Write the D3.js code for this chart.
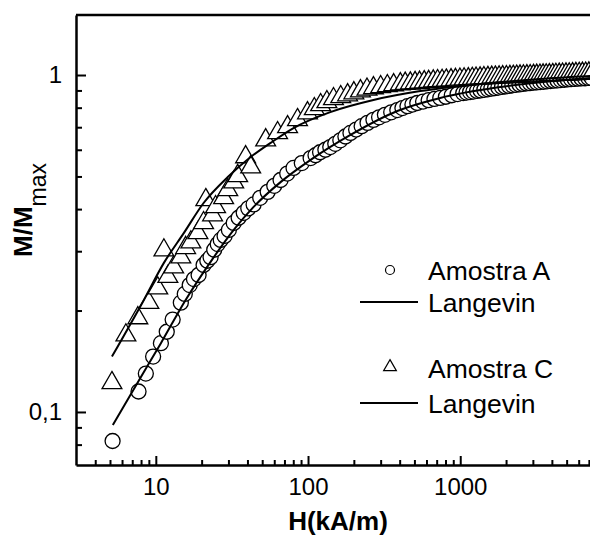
<!DOCTYPE html>
<html>
<head>
<meta charset="utf-8">
<script src="https://cdn.jsdelivr.net/npm/d3@7"></script>
<style>
  body { margin: 0; background: #fff; }
  text { font-family: "Liberation Sans", Arial, sans-serif; }
</style>
</head>
<body>
<div id="chart"></div>
<script>
"use strict";

/* DATA */

// Amostra A (circles) : [H (kA/m), M/Mmax]
let amostraA = [
    [5.2, 0.082], [7.7, 0.115], [8.6, 0.130], [9.6, 0.146], [10.8, 0.160],
    [11.8, 0.173], [12.9, 0.188], [14.6, 0.211], [15.5, 0.224], [16.7, 0.238],
    [17.8, 0.248], [19.1, 0.255], [20.6, 0.273], [21.8, 0.281], [22.9, 0.288],
    [24.2, 0.303], [25.5, 0.315], [26.7, 0.324], [28.3, 0.333], [30.2, 0.347],
    [32.5, 0.364], [35.0, 0.377], [37.8, 0.390], [40.5, 0.402], [43.9, 0.413],
    [48.5, 0.432], [54.3, 0.450], [60.0, 0.469], [66.0, 0.488], [73.0, 0.510],
    [80.3, 0.530], [91, 0.548], [104, 0.567], [112, 0.578], [120, 0.590],
    [130, 0.600], [140, 0.611], [151, 0.625], [163, 0.640], [176, 0.657],
    [190, 0.673], [207, 0.689], [225, 0.705], [246, 0.721], [269, 0.736],
    [293, 0.749], [320, 0.762], [352, 0.775], [386, 0.787], [417, 0.798],
    [450, 0.808], [485, 0.817], [522, 0.826], [570, 0.834], [620, 0.842],
    [677, 0.849], [739, 0.855], [805, 0.862], [880, 0.871], [960, 0.878],
    [1046, 0.884], [1100, 0.887], [1160, 0.890], [1220, 0.893], [1290, 0.897],
    [1360, 0.900], [1440, 0.904], [1520, 0.907], [1600, 0.911], [1690, 0.914],
    [1780, 0.918], [1880, 0.922], [1980, 0.925], [2090, 0.928], [2200, 0.932],
    [2320, 0.935], [2450, 0.938], [2580, 0.941], [2720, 0.944], [2870, 0.946],
    [3020, 0.949], [3180, 0.951], [3350, 0.953], [3530, 0.955], [3720, 0.958],
    [3920, 0.960], [4130, 0.962], [4350, 0.964], [4580, 0.966], [4820, 0.968],
    [5080, 0.970], [5350, 0.972], [5640, 0.974], [5940, 0.975], [6260, 0.977],
    [6600, 0.978], [6950, 0.980], [7300, 0.981]
];

// Amostra C (triangles)
let amostraC = [
    [5.15, 0.122], [6.36, 0.169], [7.62, 0.190], [9.0, 0.211], [10.3, 0.233],
    [11.3, 0.302], [12.0, 0.252], [13.1, 0.269], [14.6, 0.288], [15.7, 0.307],
    [17.0, 0.319], [18.9, 0.340], [20.6, 0.364], [21.3, 0.426], [23.6, 0.384],
    [24.7, 0.406], [27.9, 0.432], [29.7, 0.456], [32.5, 0.481], [34.5, 0.502],
    [38.9, 0.571], [42.0, 0.533], [52.7, 0.641], [63.1, 0.673], [73.4, 0.701],
    [85.3, 0.736], [99.2, 0.771], [110, 0.793], [121, 0.815], [133, 0.832],
    [147, 0.849], [164, 0.861], [182, 0.872], [200, 0.884], [221, 0.896],
    [244, 0.906], [269, 0.915], [300, 0.922], [332, 0.928], [365, 0.934],
    [404, 0.940], [435, 0.943], [470, 0.945], [505, 0.948], [540, 0.950],
    [580, 0.953], [620, 0.955], [665, 0.958], [710, 0.960], [760, 0.962],
    [810, 0.964], [870, 0.966], [930, 0.968], [995, 0.970], [1060, 0.972],
    [1130, 0.973], [1200, 0.975], [1270, 0.977], [1350, 0.978], [1430, 0.980],
    [1520, 0.981], [1610, 0.983], [1700, 0.984], [1800, 0.985], [1900, 0.986],
    [2010, 0.987], [2120, 0.988], [2230, 0.989], [2350, 0.990], [2470, 0.991],
    [2600, 0.992], [2740, 0.993], [2880, 0.994], [3030, 0.995], [3180, 0.996],
    [3340, 0.997], [3500, 0.998], [3670, 0.999], [3850, 1.000], [4050, 1.001],
    [4250, 1.002], [4470, 1.003], [4700, 1.004], [4950, 1.005], [5200, 1.006],
    [5470, 1.007], [5750, 1.008], [6050, 1.009], [6350, 1.010], [6670, 1.011],
    [7000, 1.012], [7350, 1.013]
];

// Langevin fits
let langevinA = [
    [5.22, 0.0915], [7.74, 0.124], [10.8, 0.160], [15.7, 0.215], [22.9, 0.279],
    [32.5, 0.347], [43.9, 0.406], [66.0, 0.481], [104, 0.560], [190, 0.664],
    [386, 0.782], [739, 0.855], [1830, 0.921], [7120, 0.980]
];

let langevinC = [
    [5.15, 0.146], [8.35, 0.215], [11.3, 0.277], [15.3, 0.340], [20.6, 0.417],
    [29.7, 0.498], [42.0, 0.571], [56.8, 0.629], [80.3, 0.696], [140, 0.776],
    [269, 0.843], [547, 0.896], [1352, 0.940], [3346, 0.973], [7120, 0.993]
];

// ticks
let xMajor = [10, 100, 1000];
let xMinor = [4, 5, 6, 7, 8, 9, 20, 30, 40, 50, 60, 70, 80, 90,
              200, 300, 400, 500, 600, 700, 800, 900, 2000, 3000, 4000, 5000, 6000, 7000];
let yMajor = [0.1, 1];
let yMajorLabels = ["0,1", "1"];
let yMinor = [0.08, 0.09, 0.2, 0.3, 0.4, 0.5, 0.6, 0.7, 0.8, 0.9];

let legendItems = ["Amostra A", "Langevin", "Amostra C", "Langevin"];


/* SVG SETUP */

let svgWidth = 590;
let svgHeight = 544;

let svg = d3.select("#chart")
    .append("svg")
    .attr("width", svgWidth)
    .attr("height", svgHeight);

let plotLeft = 76, plotRight = 590, plotTop = 15, plotBottom = 465;

let xScale = d3.scaleLog()
    .domain([2.99, 7120])
    .range([plotLeft, plotRight]);

let yScale = d3.scaleLog()
    .domain([0.0696, 1.507])
    .range([plotBottom, plotTop]);


/* AXES */

// minor x ticks
svg.append("g")
    .attr("transform", "translate(0," + plotBottom + ")")
    .call(d3.axisBottom(xScale).tickValues(xMinor).tickSize(-5).tickSizeOuter(0).tickFormat(""))
    .call(g => g.select(".domain").remove())
    .call(g => g.selectAll("line").attr("stroke-width", 2));

// major x ticks
svg.append("g")
    .attr("transform", "translate(0," + plotBottom + ")")
    .call(d3.axisBottom(xScale).tickValues(xMajor).tickSize(-9).tickSizeOuter(0)
        .tickPadding(13).tickFormat(d3.format("d")))
    .call(g => g.select(".domain").attr("stroke-width", 2.5))
    .call(g => g.selectAll("line").attr("stroke-width", 2))
    .call(g => g.selectAll("text").attr("font-size", "24px").attr("fill", "#000")
        .attr("font-family", "Liberation Sans, Arial, sans-serif"));

// minor y ticks
svg.append("g")
    .attr("transform", "translate(" + plotLeft + ",0)")
    .call(d3.axisLeft(yScale).tickValues(yMinor).tickSize(-6).tickSizeOuter(0).tickFormat(""))
    .call(g => g.select(".domain").remove())
    .call(g => g.selectAll("line").attr("stroke-width", 2));

// major y ticks
svg.append("g")
    .attr("transform", "translate(" + plotLeft + ",0)")
    .call(d3.axisLeft(yScale).tickValues(yMajor).tickSize(-10).tickSizeOuter(0)
        .tickPadding(14).tickFormat((d, i) => yMajorLabels[i]))
    .call(g => g.select(".domain").attr("stroke-width", 2.5))
    .call(g => g.selectAll("line").attr("stroke-width", 2))
    .call(g => g.selectAll("text").attr("font-size", "24px").attr("fill", "#000")
        .attr("font-family", "Liberation Sans, Arial, sans-serif"));

// top frame line
svg.append("line")
    .attr("x1", plotLeft)
    .attr("y1", plotTop)
    .attr("x2", plotRight)
    .attr("y2", plotTop)
    .attr("stroke", "#000")
    .attr("stroke-width", 2.5);


/* AXIS LABELS */

svg.append("text")
    .attr("x", 338)
    .attr("y", 530)
    .attr("text-anchor", "middle")
    .attr("font-size", "26px")
    .attr("font-weight", "bold")
    .text("H(kA/m)");

let yLabel = svg.append("text")
    .attr("transform", "translate(32,210) rotate(-90)")
    .attr("text-anchor", "middle");

yLabel.append("tspan")
    .attr("font-size", "26px")
    .attr("font-weight", "bold")
    .text("M/M");

yLabel.append("tspan")
    .attr("font-size", "23px")
    .attr("dy", 14)
    .text("max");


/* MARKERS */

let triangle = d3.symbol().type(d3.symbolTriangle).size(170);

svg.append("g")
    .selectAll("circle")
    .data(amostraA)
    .enter()
    .append("circle")
    .attr("cx", d => xScale(d[0]))
    .attr("cy", d => yScale(d[1]))
    .attr("r", 7.5)
    .attr("fill", "#fff")
    .attr("stroke", "#000")
    .attr("stroke-width", 1.3);

svg.append("g")
    .selectAll("path")
    .data(amostraC)
    .enter()
    .append("path")
    .attr("d", triangle)
    .attr("transform", d => "translate(" + xScale(d[0]) + "," + yScale(d[1]) + ")")
    .attr("fill", "#fff")
    .attr("stroke", "#000")
    .attr("stroke-width", 1.3);


/* LANGEVIN LINES */

let line = d3.line()
    .x(d => xScale(d[0]))
    .y(d => yScale(d[1]))
    .curve(d3.curveMonotoneX);

[langevinA, langevinC].forEach(function (fit) {
    svg.append("path")
        .datum(fit)
        .attr("d", line)
        .attr("fill", "none")
        .attr("stroke", "#000")
        .attr("stroke-width", 2);
});


/* LEGEND */

let legendX = 428;
let legendRows = [280, 312, 378, 413];

svg.append("circle")
    .attr("cx", 390)
    .attr("cy", legendRows[0] - 10)
    .attr("r", 4.5)
    .attr("fill", "#fff")
    .attr("stroke", "#000")
    .attr("stroke-width", 1.2);

svg.append("path")
    .attr("d", d3.symbol().type(d3.symbolTriangle).size(70))
    .attr("transform", "translate(390," + (legendRows[2] - 11) + ")")
    .attr("fill", "#fff")
    .attr("stroke", "#000")
    .attr("stroke-width", 1.2);

[legendRows[1], legendRows[3]].forEach(function (y) {
    svg.append("line")
        .attr("x1", 360)
        .attr("x2", 418)
        .attr("y1", y - 10)
        .attr("y2", y - 10)
        .attr("stroke", "#000")
        .attr("stroke-width", 2);
});

legendItems.forEach(function (label, i) {
    svg.append("text")
        .attr("x", legendX)
        .attr("y", legendRows[i])
        .attr("font-size", "26.5px")
        .text(label);
});
</script>
</body>
</html>
